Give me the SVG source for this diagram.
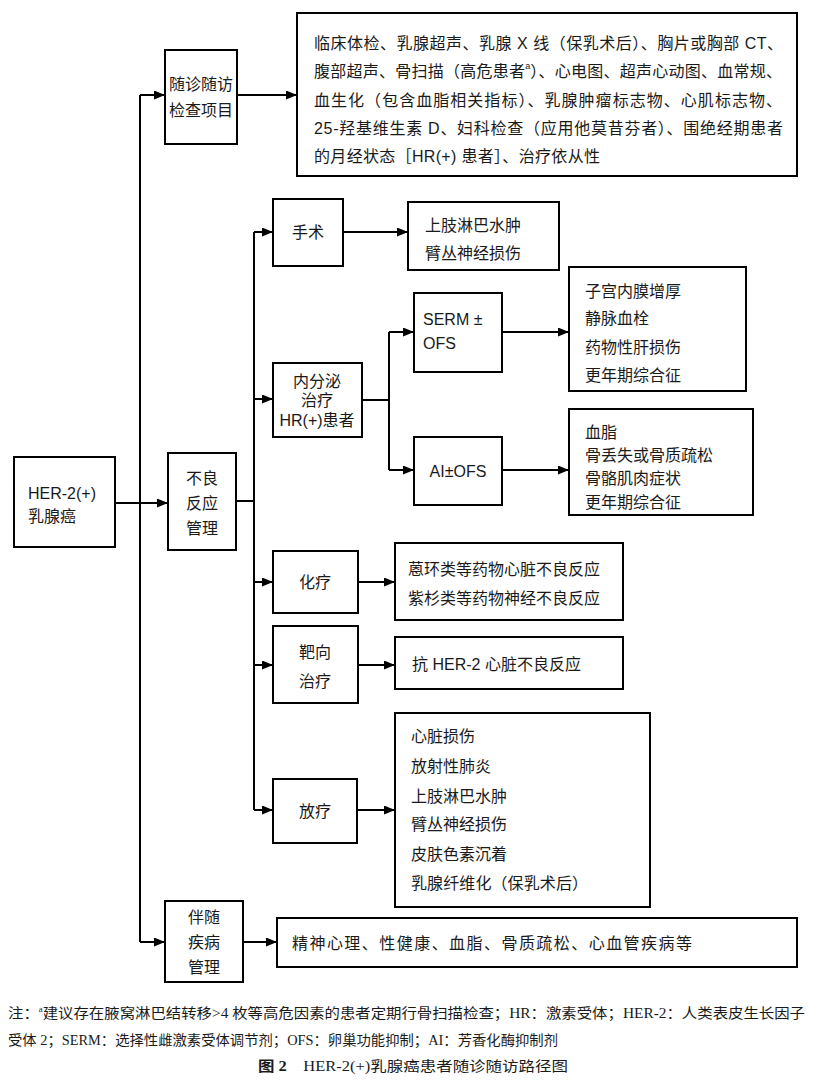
<svg xmlns="http://www.w3.org/2000/svg" width="820" height="1087" viewBox="0 0 820 1087">
<defs>
<marker id="ah" markerWidth="11" markerHeight="9" refX="11" refY="4.5" orient="auto" markerUnits="userSpaceOnUse">
<path d="M0,0 L11,4.5 L0,9 z" fill="#000"/>
</marker>
<style>
.box{fill:#fff;stroke:#000;stroke-width:2}
.t{font-family:"Liberation Sans","Noto Sans CJK SC",sans-serif;font-size:16px;fill:#1a1a1a;dominant-baseline:central}
.c{text-anchor:middle}
.ln{stroke:#000;stroke-width:2;fill:none}
.ar{stroke:#000;stroke-width:2;fill:none;marker-end:url(#ah)}
.n{font-family:"Liberation Serif","Noto Sans CJK SC",serif;font-size:14px;fill:#1a1a1a;dominant-baseline:central}
</style>
</defs>
<rect width="820" height="1087" fill="#fff"/>

<g id="connectors">
<line class="ln" x1="140" y1="95" x2="140" y2="942"/>
<line class="ar" x1="140" y1="95" x2="165" y2="95"/>
<line class="ar" x1="115" y1="503" x2="168" y2="503"/>
<line class="ar" x1="140" y1="942" x2="165" y2="942"/>
<line class="ar" x1="237" y1="95" x2="297" y2="95"/>
<line class="ln" x1="236" y1="501" x2="254" y2="501"/>
<line class="ln" x1="254" y1="232" x2="254" y2="810"/>
<line class="ar" x1="254" y1="232" x2="273" y2="232"/>
<line class="ar" x1="254" y1="399" x2="273" y2="399"/>
<line class="ar" x1="254" y1="582" x2="273" y2="582"/>
<line class="ar" x1="254" y1="665" x2="273" y2="665"/>
<line class="ar" x1="254" y1="810" x2="273" y2="810"/>
<line class="ar" x1="343" y1="232" x2="408" y2="232"/>
<line class="ln" x1="362" y1="400" x2="389" y2="400"/>
<line class="ln" x1="389" y1="332" x2="389" y2="470"/>
<line class="ar" x1="389" y1="332" x2="414" y2="332"/>
<line class="ar" x1="389" y1="470" x2="414" y2="470"/>
<line class="ar" x1="502" y1="332" x2="569" y2="332"/>
<line class="ar" x1="502" y1="470" x2="569" y2="470"/>
<line class="ar" x1="358" y1="582" x2="395" y2="582"/>
<line class="ar" x1="358" y1="665" x2="395" y2="665"/>
<line class="ar" x1="357" y1="810" x2="395" y2="810"/>
<line class="ar" x1="243" y1="942" x2="277" y2="942"/>
</g>

<g id="n-root">
<rect class="box" x="14" y="457" width="101" height="90"/>
<text class="t" x="28" y="493">HER-2(+)</text>
<text class="t" x="28" y="516">乳腺癌</text>
</g>

<g id="n-followup">
<rect class="box" x="165" y="50" width="72" height="94"/>
<text class="t c" x="201" y="84">随诊随访</text>
<text class="t c" x="201" y="110">检查项目</text>
</g>

<g id="n-followup-items">
<rect class="box" x="297" y="13" width="500" height="163"/>
<text class="t" x="314" y="43" textLength="469" lengthAdjust="spacing">临床体检、乳腺超声、乳腺 X 线（保乳术后）、胸片或胸部 CT、</text>
<text class="t" x="314" y="71" textLength="468" lengthAdjust="spacing">腹部超声、骨扫描（高危患者<tspan font-size="9" dy="-5">a</tspan><tspan dy="5">）、心电图、超声心动图、血常规、</tspan></text>
<text class="t" x="314" y="100" textLength="468" lengthAdjust="spacing">血生化（包含血脂相关指标）、乳腺肿瘤标志物、心肌标志物、</text>
<text class="t" x="314" y="128" textLength="469" lengthAdjust="spacing">25-羟基维生素 D、妇科检查（应用他莫昔芬者）、围绝经期患者</text>
<text class="t" x="314" y="156" textLength="286" lengthAdjust="spacing">的月经状态［HR(+) 患者］、治疗依从性</text>
</g>

<g id="n-adverse">
<rect class="box" x="168" y="453" width="68" height="97"/>
<text class="t c" x="202" y="478">不良</text>
<text class="t c" x="202" y="503">反应</text>
<text class="t c" x="202" y="528">管理</text>
</g>

<g id="n-surgery">
<rect class="box" x="273" y="199" width="70" height="67"/>
<text class="t c" x="308" y="232">手术</text>
</g>

<g id="n-surgery-ae">
<rect class="box" x="408" y="202" width="151" height="68"/>
<text class="t" x="425" y="225">上肢淋巴水肿</text>
<text class="t" x="425" y="253">臂丛神经损伤</text>
</g>

<g id="n-endocrine">
<rect class="box" x="273" y="363" width="89" height="74"/>
<text class="t c" x="317" y="381">内分泌</text>
<text class="t c" x="317" y="400">治疗</text>
<text class="t c" x="317" y="420">HR(+)患者</text>
</g>

<g id="n-serm">
<rect class="box" x="414" y="293" width="88" height="79"/>
<text class="t" x="423" y="319">SERM ±</text>
<text class="t" x="423" y="343">OFS</text>
</g>

<g id="n-serm-ae">
<rect class="box" x="569" y="267" width="177" height="124"/>
<text class="t" x="585" y="291">子宫内膜增厚</text>
<text class="t" x="585" y="318">静脉血栓</text>
<text class="t" x="585" y="347">药物性肝损伤</text>
<text class="t" x="585" y="375">更年期综合征</text>
</g>

<g id="n-ai">
<rect class="box" x="414" y="437" width="88" height="68"/>
<text class="t c" x="458" y="471">AI±OFS</text>
</g>

<g id="n-ai-ae">
<rect class="box" x="569" y="409" width="184" height="106"/>
<text class="t" x="585" y="432">血脂</text>
<text class="t" x="585" y="455">骨丢失或骨质疏松</text>
<text class="t" x="585" y="478">骨骼肌肉症状</text>
<text class="t" x="585" y="502">更年期综合征</text>
</g>

<g id="n-chemo">
<rect class="box" x="273" y="551" width="85" height="62"/>
<text class="t c" x="315" y="582">化疗</text>
</g>

<g id="n-chemo-ae">
<rect class="box" x="395" y="543" width="228" height="77"/>
<text class="t" x="408" y="569">蒽环类等药物心脏不良反应</text>
<text class="t" x="408" y="598">紫杉类等药物神经不良反应</text>
</g>

<g id="n-target">
<rect class="box" x="273" y="626" width="85" height="77"/>
<text class="t c" x="315" y="652">靶向</text>
<text class="t c" x="315" y="681">治疗</text>
</g>

<g id="n-target-ae">
<rect class="box" x="395" y="637" width="228" height="52"/>
<text class="t" x="412" y="664">抗 HER-2 心脏不良反应</text>
</g>

<g id="n-radio">
<rect class="box" x="273" y="779" width="84" height="64"/>
<text class="t c" x="315" y="811">放疗</text>
</g>

<g id="n-radio-ae">
<rect class="box" x="395" y="713" width="255" height="194"/>
<text class="t" x="411" y="736">心脏损伤</text>
<text class="t" x="411" y="766">放射性肺炎</text>
<text class="t" x="411" y="796">上肢淋巴水肿</text>
<text class="t" x="411" y="824">臂丛神经损伤</text>
<text class="t" x="411" y="854">皮肤色素沉着</text>
<text class="t" x="411" y="883" textLength="177" lengthAdjust="spacing">乳腺纤维化（保乳术后）</text>
</g>

<g id="n-comorbid">
<rect class="box" x="165" y="901" width="78" height="81"/>
<text class="t c" x="204" y="917">伴随</text>
<text class="t c" x="204" y="942">疾病</text>
<text class="t c" x="204" y="967">管理</text>
</g>

<g id="n-comorbid-items">
<rect class="box" x="277" y="918" width="520" height="49"/>
<text class="t" x="292" y="943" textLength="400" lengthAdjust="spacing">精神心理、性健康、血脂、骨质疏松、心血管疾病等</text>
</g>

<g id="notes">
<text class="n" x="8" y="1013" textLength="797" lengthAdjust="spacingAndGlyphs">注：<tspan font-size="8" dy="-4">a</tspan><tspan dy="4">建议存在腋窝淋巴结转移&gt;4 枚等高危因素的患者定期行骨扫描检查；HR：激素受体；HER-2：人类表皮生长因子</tspan></text>
<text class="n" x="8" y="1040" textLength="550" lengthAdjust="spacingAndGlyphs">受体 2；SERM：选择性雌激素受体调节剂；OFS：卵巢功能抑制；AI：芳香化酶抑制剂</text>
<text class="n" x="258" y="1066" font-size="15" textLength="310" lengthAdjust="spacingAndGlyphs"><tspan font-weight="bold">图 2</tspan>　HER-2(+)乳腺癌患者随诊随访路径图</text>
</g>
</svg>
